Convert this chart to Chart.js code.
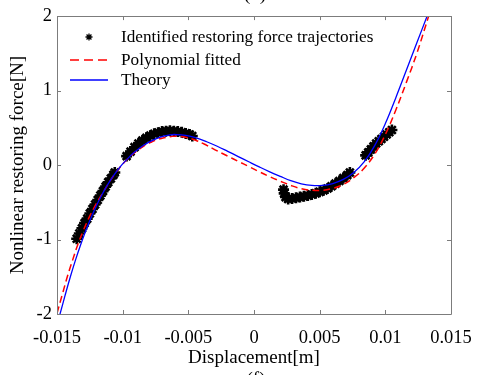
<!DOCTYPE html>
<html><head><meta charset="utf-8">
<script src="https://cdn.jsdelivr.net/npm/chart.js@4/dist/chart.umd.min.js"></script>
<style>html,body{margin:0;padding:0;background:#fff;overflow:hidden;}</style>
</head><body>
<canvas id="c" width="485" height="375" style="width:485px;height:375px;display:block"></canvas>
<script>
// ---- data (displacement in m, force in N) ----
const theoryX = [-0.0148,-0.0144,-0.0140,-0.0136,-0.0132,-0.0128,-0.0124,-0.0120,-0.0116,-0.0112,-0.0108,-0.0104,-0.0100,-0.0096,-0.0092,-0.0088,-0.0084,-0.0080,-0.0076,-0.0072,-0.0068,-0.0064,-0.0060,
  -0.0052,-0.0044,-0.0036,-0.0028,-0.0020,-0.0012,-0.0004,0.0004,0.0012,0.0020,0.0028,0.0036,0.0044,0.0052,0.0060,0.0068,0.0076,0.0084,0.0092,0.0100,0.0108,0.0116,0.0124,0.0132];
const theoryY = [-2.02,-1.76,-1.51,-1.28,-1.07,-0.88,-0.705,-0.546,-0.405,-0.28,-0.169,-0.071,0.015,0.09,0.157,0.215,0.265,0.307,0.342,0.371,0.392,0.406,0.41,
  0.398,0.364,0.313,0.252,0.184,0.114,0.044,-0.025,-0.091,-0.152,-0.21,-0.252,-0.274,-0.274,-0.248,-0.193,-0.10,0.045,0.265,0.557,0.905,1.273,1.641,2.009];

const polyX = [-0.0150,-0.0146,-0.0142,-0.0138,-0.0134,-0.0130,-0.0126,-0.0122,-0.0118,-0.0114,-0.0110,-0.0106,-0.0102,-0.0098,-0.0094,-0.0090,-0.0086,-0.0082,-0.0078,-0.0074,-0.0070,-0.0066,-0.0062,-0.0058,
  -0.0052,-0.0044,-0.0036,-0.0028,-0.0020,-0.0012,-0.0004,0.0004,0.0012,0.0020,0.0028,0.0036,0.0044,0.0052,0.0060,0.0068,0.0076,0.0084,0.0092,0.0100,0.0108,0.0116,0.0124,0.0133];
const polyY = [-1.99,-1.74,-1.49,-1.27,-1.06,-0.88,-0.72,-0.58,-0.455,-0.34,-0.225,-0.12,-0.03,0.05,0.12,0.18,0.23,0.275,0.31,0.34,0.36,0.375,0.385,0.387,
  0.372,0.33,0.265,0.19,0.12,0.05,-0.02,-0.09,-0.156,-0.217,-0.273,-0.317,-0.339,-0.339,-0.313,-0.26,-0.17,-0.04,0.15,0.41,0.74,1.11,1.50,2.0];

const identX = [
 -0.0135,-0.0133,-0.0131,-0.0129,-0.0127,-0.0125,-0.0123,-0.0121,-0.0119,-0.0117,-0.0115,-0.0113,-0.0111,-0.0109,-0.0107,-0.0106,
 -0.0097,-0.0094,-0.0091,-0.0088,-0.0085,-0.0082,-0.0079,-0.0076,-0.0073,-0.0070,-0.0067,-0.0064,-0.0061,-0.0058,-0.0055,-0.0052,-0.0049,-0.0047,
 0.00225,0.0023,0.0024,0.0026,0.0029,0.0032,0.0035,0.0038,0.0041,0.0044,0.0047,0.0050,0.0053,0.0056,0.0059,0.0062,0.0065,0.0068,0.0071,0.0073,
 0.0085,0.0087,0.0089,0.0091,0.0093,0.0095,0.0097,0.0099,0.0101,0.0103,0.0105
];
const identY = [
 -0.99,-0.92,-0.85,-0.78,-0.72,-0.65,-0.59,-0.53,-0.47,-0.41,-0.35,-0.29,-0.23,-0.18,-0.13,-0.10,
 0.12,0.18,0.24,0.29,0.33,0.365,0.395,0.42,0.435,0.45,0.455,0.46,0.455,0.45,0.44,0.425,0.41,0.39,
 -0.33,-0.38,-0.43,-0.455,-0.45,-0.44,-0.43,-0.42,-0.41,-0.395,-0.38,-0.36,-0.34,-0.315,-0.285,-0.25,-0.215,-0.175,-0.135,-0.10,
 0.13,0.17,0.21,0.25,0.29,0.32,0.35,0.38,0.41,0.44,0.47
];

const xTickValues = [-0.015,-0.01,-0.005,0,0.005,0.01,0.015];
const xTickLabels = ['-0.015','-0.01','-0.005','0','0.005','0.01','0.015'];
const yTickValues = [-2,-1,0,1,2];
const yTickLabels = ['-2','-1','0','1','2'];
const seriesNames = ['Identified restoring force trajectories','Polynomial fitted','Theory'];
const xTitle = 'Displacement[m]';
const yTitle = 'Nonlinear restoring force[N]';

const toPts = (xs, ys) => xs.map((x, i) => ({x, y: ys[i]}));
const SERIF = "'Liberation Serif','Times New Roman',serif";
const AXIS = '#7c7c7c';

const boxPlugin = {
  id: 'boxTicks',
  afterDatasetsDraw(chart) {
    const {ctx, chartArea: a, scales} = chart;
    ctx.save();
    ctx.strokeStyle = AXIS; ctx.lineWidth = 1;
    ctx.beginPath();
    ctx.rect(Math.round(a.left)+0.5, Math.round(a.top)+0.5, Math.round(a.right-a.left), Math.round(a.bottom-a.top));
    const L = 4;
    xTickValues.forEach(v => {
      const px = Math.round(scales.x.getPixelForValue(v)) + 0.5;
      ctx.moveTo(px, a.bottom); ctx.lineTo(px, a.bottom - L);
      ctx.moveTo(px, a.top); ctx.lineTo(px, a.top + L);
    });
    yTickValues.forEach(v => {
      const py = Math.round(scales.y.getPixelForValue(v)) + 0.5;
      ctx.moveTo(a.left, py); ctx.lineTo(a.left + L, py);
      ctx.moveTo(a.right, py); ctx.lineTo(a.right - L, py);
    });
    ctx.stroke();
    ctx.restore();
  },
  afterDraw(chart) {
    const {ctx} = chart;
    ctx.save();
    // legend
    ctx.font = '17.2px ' + SERIF;
    ctx.fillStyle = '#000';
    ctx.textBaseline = 'middle';
    ctx.textAlign = 'left';
    const rows = [37, 60, 80];
    ctx.strokeStyle = '#000'; ctx.lineWidth = 1.3;
    const cx = 89, cy = rows[0], r = 3.5;
    ctx.beginPath();
    ctx.moveTo(cx, cy - r); ctx.lineTo(cx, cy + r);
    ctx.moveTo(cx - r, cy); ctx.lineTo(cx + r, cy);
    ctx.moveTo(cx - r*0.7, cy - r*0.7); ctx.lineTo(cx + r*0.7, cy + r*0.7);
    ctx.moveTo(cx - r*0.7, cy + r*0.7); ctx.lineTo(cx + r*0.7, cy - r*0.7);
    ctx.stroke();
    ctx.strokeStyle = '#ff0000'; ctx.lineWidth = 1.5; ctx.setLineDash([9, 5]);
    ctx.beginPath(); ctx.moveTo(70, rows[1]); ctx.lineTo(108, rows[1]); ctx.stroke();
    ctx.setLineDash([]);
    ctx.strokeStyle = '#0000ff'; ctx.lineWidth = 1.5;
    ctx.beginPath(); ctx.moveTo(70, rows[2]); ctx.lineTo(108, rows[2]); ctx.stroke();
    seriesNames.forEach((t, i) => ctx.fillText(t, 121, rows[i]));
    // partial captions cut by the image edges
    ctx.font = '19px ' + SERIF;
    ctx.textAlign = 'center';
    ctx.textBaseline = 'alphabetic';
    ctx.fillText('(d)', 255, 0);
    ctx.textBaseline = 'top';
    ctx.fillText('(f)', 256, 371);
    ctx.restore();
  }
};

new Chart(document.getElementById('c'), {
  type: 'scatter',
  data: {
    datasets: [
      { label: seriesNames[0], data: toPts(identX, identY), order: 3,
        pointStyle: 'star', radius: 5.5, borderWidth: 2.6, borderColor: '#000', backgroundColor: '#000', showLine: false },
      { label: seriesNames[1], data: toPts(polyX, polyY), order: 2, showLine: true, pointRadius: 0,
        borderColor: '#ff0000', borderWidth: 1.5, borderDash: [7, 4], tension: 0.4 },
      { label: seriesNames[2], data: toPts(theoryX, theoryY), order: 1, showLine: true, pointRadius: 0,
        borderColor: '#0000ff', borderWidth: 1.3, tension: 0.4 }
    ]
  },
  options: {
    responsive: false, animation: false, devicePixelRatio: 1,
    layout: { padding: { left: 0, right: 34, top: 14, bottom: 0 } },
    plugins: { legend: { display: false }, tooltip: { enabled: false } },
    scales: {
      x: {
        type: 'linear', min: -0.015, max: 0.015,
        afterBuildTicks: s => { s.ticks = xTickValues.map(v => ({value: v})); },
        afterFit: s => { s.height = 61; },
        ticks: { callback: (v, i) => xTickLabels[i], color: '#000', padding: 13, maxRotation: 0,
                 font: { family: SERIF, size: 18.5 } },
        grid: { display: false, drawTicks: false }, border: { display: false },
        title: { display: true, text: xTitle, color: '#000', padding: { top: 0, bottom: 6 },
                 font: { family: SERIF, size: 19 } }
      },
      y: {
        type: 'linear', min: -2, max: 2,
        afterBuildTicks: s => { s.ticks = yTickValues.map(v => ({value: v})); },
        afterFit: s => { s.width = 57; },
        ticks: { callback: (v, i) => yTickLabels[i], color: '#000', padding: 5,
                 font: { family: SERIF, size: 18.5 } },
        grid: { display: false, drawTicks: false }, border: { display: false },
        title: { display: true, text: yTitle, color: '#000', padding: { top: 6.6, bottom: 0 },
                 font: { family: SERIF, size: 19 } }
      }
    }
  },
  plugins: [boxPlugin]
});
</script>
</body></html>
